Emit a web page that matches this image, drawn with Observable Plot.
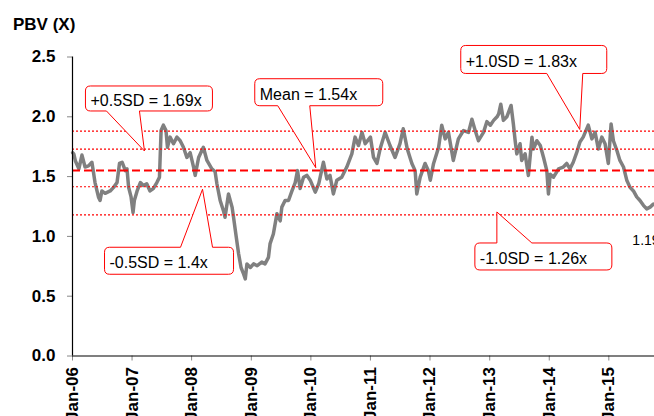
<!DOCTYPE html>
<html><head><meta charset="utf-8">
<script src="https://cdn.jsdelivr.net/npm/d3@7"></script>
<script src="https://cdn.jsdelivr.net/npm/@observablehq/plot@0.6"></script>
<style>
html,body{margin:0;padding:0;background:#fff}
body{width:654px;height:416px;overflow:hidden;font-family:"Liberation Sans",Arial,sans-serif}
#title{height:40px;box-sizing:border-box;padding:16px 0 0 13px;font-weight:bold;font-size:17px;line-height:17px;color:#000}
</style></head><body>
<div id="title">PBV (X)</div>
<div id="chart"></div>
<script>
// ---- data ----
const dates = [
"2006-01-02","2006-01-09","2006-01-19","2006-02-09","2006-02-28","2006-03-19","2006-04-09","2006-04-30","2006-05-09","2006-05-19",
"2006-06-09","2006-06-19","2006-06-30","2006-07-20","2006-08-20","2006-09-10","2006-10-01","2006-10-16","2006-11-01","2006-11-21",
"2006-12-01","2006-12-11","2006-12-26","2007-01-07","2007-01-15","2007-02-01","2007-02-21","2007-03-11","2007-04-01","2007-04-21",
"2007-05-11","2007-06-02","2007-06-18","2007-06-28","2007-07-12","2007-07-28","2007-08-06","2007-08-22","2007-09-12","2007-10-03",
"2007-10-23","2007-11-12","2007-12-03","2007-12-23","2008-01-13","2008-01-23","2008-02-13","2008-03-13","2008-04-04","2008-05-04",
"2008-05-24","2008-06-04","2008-06-24","2008-07-14","2008-07-24","2008-08-14","2008-09-05","2008-09-14","2008-10-01","2008-10-15",
"2008-10-30","2008-11-15","2008-11-25","2008-12-05","2008-12-26","2009-01-15","2009-02-06","2009-03-06","2009-03-26","2009-04-16",
"2009-04-26","2009-05-16","2009-06-07","2009-06-27","2009-07-07","2009-07-27","2009-08-17","2009-09-07","2009-09-27","2009-10-11",
"2009-10-27","2009-11-17","2009-12-08","2009-12-28","2010-01-28","2010-02-18","2010-03-19","2010-04-09","2010-04-28","2010-05-19",
"2010-06-09","2010-07-09","2010-08-09","2010-09-09","2010-09-29","2010-10-20","2010-11-10","2010-11-30","2011-01-01","2011-01-20",
"2011-02-10","2011-03-01","2011-04-01","2011-05-01","2011-06-01","2011-07-01","2011-07-21","2011-08-15","2011-09-12","2011-10-02",
"2011-10-12","2011-11-02","2011-12-02","2011-12-22","2012-01-03","2012-01-23","2012-02-23","2012-03-13","2012-04-03","2012-04-23",
"2012-05-23","2012-06-23","2012-07-24","2012-08-24","2012-09-14","2012-10-04","2012-10-24","2012-11-24","2012-12-15","2013-01-05",
"2013-01-25","2013-02-15","2013-02-25","2013-03-10","2013-03-26","2013-04-16","2013-05-12","2013-05-26","2013-06-06","2013-06-16",
"2013-07-06","2013-07-16","2013-08-06","2013-08-26","2013-09-17","2013-09-26","2013-10-17","2013-11-07","2013-11-27","2013-12-17",
"2013-12-27","2014-01-07","2014-01-27","2014-02-27","2014-03-28","2014-04-18","2014-05-08","2014-05-28","2014-06-18","2014-07-08",
"2014-07-28","2014-08-28","2014-09-19","2014-10-09","2014-10-29","2014-11-19","2014-12-09","2014-12-29","2015-01-15","2015-01-29",
"2015-02-19","2015-03-10","2015-04-01","2015-04-21","2015-05-11","2015-06-01","2015-06-21","2015-07-11","2015-08-01","2015-08-21",
"2015-09-11","2015-10-01"
];
const pbv = [
1.70,1.69,1.63,1.565,1.68,1.58,1.59,1.62,1.54,1.45,
1.33,1.30,1.38,1.36,1.38,1.41,1.45,1.61,1.62,1.55,
1.565,1.41,1.33,1.20,1.30,1.38,1.45,1.425,1.44,1.38,
1.40,1.45,1.495,1.885,1.93,1.885,1.745,1.83,1.775,1.83,
1.80,1.745,1.66,1.70,1.58,1.51,1.66,1.745,1.635,1.565,
1.54,1.44,1.30,1.215,1.16,1.355,1.245,1.16,0.99,0.855,
0.74,0.685,0.645,0.77,0.74,0.77,0.755,0.785,0.77,0.825,
0.94,1.02,1.19,1.13,1.245,1.30,1.30,1.38,1.45,1.55,
1.40,1.495,1.51,1.47,1.37,1.44,1.62,1.48,1.51,1.355,
1.47,1.495,1.58,1.69,1.83,1.76,1.87,1.775,1.83,1.66,
1.61,1.73,1.87,1.76,1.66,1.775,1.90,1.73,1.61,1.55,
1.355,1.495,1.61,1.55,1.47,1.61,1.745,1.93,1.815,1.87,
1.635,1.815,1.885,1.87,1.98,1.885,1.80,1.87,1.96,1.93,
1.97,2.0,2.025,2.105,1.97,2.0,2.095,1.94,1.80,1.69,
1.775,1.635,1.69,1.51,1.83,1.73,1.80,1.76,1.66,1.55,
1.355,1.52,1.495,1.565,1.58,1.61,1.565,1.62,1.70,1.79,
1.83,1.93,1.815,1.87,1.73,1.83,1.775,1.61,1.94,1.80,
1.72,1.635,1.58,1.47,1.41,1.38,1.33,1.30,1.26,1.23,
1.245,1.27
];
// reference band levels as drawn (lines)
const bandNames  = ["+1.0SD", "+0.5SD", "Mean", "-0.5SD", "-1.0SD"];
const bandLevels = [1.88, 1.73, 1.55, 1.415, 1.18];
// callout labels and where they point
const calloutTexts  = ["+0.5SD = 1.69x", "Mean = 1.54x", "+1.0SD = 1.83x", "-0.5SD = 1.4x", "-1.0SD = 1.26x"];
const calloutDates  = ["2007-03-21", "2010-02-03", "2014-07-10", "2008-03-11", "2013-02-17"];
const calloutValues = [1.71, 1.57, 1.89, 1.39, 1.20];
const endLabel = "1.19x";
const yTicks = [0, 0.5, 1.0, 1.5, 2.0, 2.5];
const xTicks = ["2006","2007","2008","2009","2010","2011","2012","2013","2014","2015"];
const xDomain = ["2006-01-01", "2015-10-08"];

// ---- layout (pixels, relative to each callout tip) ----
const calloutLayout = [
  {L:-59, R:68,  T:-65, B:-40, b1:-38, b2:-5,  side:"bottom"},
  {L:-61, R:67,  T:-89, B:-62, b1:-38, b2:-6,  side:"bottom"},
  {L:-119,R:27,  T:-84, B:-56, b1:-33, b2:3,   side:"bottom"},
  {L:-98, R:31,  T:58,  B:85,  b1:-22, b2:10,  side:"top"},
  {L:-22, R:115, T:31,  B:58,  b1:0,   b2:35,  side:"top"}
];

const n = Math.min(dates.length, pbv.length);
const series = d3.range(n).map(i => ({date: new Date(dates[i]), pbv: pbv[i]}));
const bands = bandNames.map((name, i) => ({name, level: bandLevels[i]}));
const callouts = calloutTexts.map((t, i) => ({text: t, date: new Date(calloutDates[i]), value: calloutValues[i], ...calloutLayout[i]}));
const last = series[series.length - 1];

function calloutMark(index, scales) {
  const g = d3.create("svg:g");
  const r = 5;
  for (const c of callouts) {
    const tx = scales.x(c.date), ty = scales.y(c.value);
    const L = tx + c.L, R = tx + c.R, T = ty + c.T, B = ty + c.B;
    const b1 = tx + c.b1, b2 = tx + c.b2;
    let p;
    if (c.side === "bottom") {
      p = `M${L+r},${T}H${R-r}Q${R},${T} ${R},${T+r}V${B-r}Q${R},${B} ${R-r},${B}H${b2}L${tx},${ty}L${b1},${B}H${L+r}Q${L},${B} ${L},${B-r}V${T+r}Q${L},${T} ${L+r},${T}Z`;
    } else {
      p = `M${L+r},${T}H${b1}L${tx},${ty}L${b2},${T}H${R-r}Q${R},${T} ${R},${T+r}V${B-r}Q${R},${B} ${R-r},${B}H${L+r}Q${L},${B} ${L},${B-r}V${T+r}Q${L},${T} ${L+r},${T}Z`;
    }
    g.append("path").attr("d", p).attr("fill", "white").attr("stroke", "#ff0000").attr("stroke-width", 1);
    g.append("text").attr("x", L + 5).attr("y", (T + B) / 2 + 7.5)
      .attr("text-anchor", "start").attr("font-size", 16).attr("fill", "#000").text(c.text);
  }
  return g.node();
}

const chart = Plot.plot({
  width: 654,
  height: 376,
  marginLeft: 72,
  marginRight: 0,
  marginTop: 16.5,
  marginBottom: 60.5,
  style: {fontFamily: "'Liberation Sans', Arial, sans-serif", background: "white", overflow: "hidden"},
  x: {type: "utc", domain: xDomain.map(d => new Date(d))},
  y: {domain: [0, 2.5]},
  marks: [
    Plot.axisY(yTicks, {tickSize: 5, tickPadding: 12, tickFormat: d3.format(".1f"), stroke: "#888", fill: "#000", fontSize: 17, fontWeight: "bold", label: null}),
    Plot.axisX(xTicks.map(y => new Date(y + "-01-01")), {tickSize: 5, tickPadding: 6, tickRotate: -90, tickFormat: d3.utcFormat("%b-%y"), stroke: "#888", fill: "#000", fontSize: 17, fontWeight: "bold", label: null}),
    Plot.line(series, {x: "date", y: "pbv", stroke: "#808080", strokeWidth: 3.5, strokeLinejoin: "round"}),
    Plot.ruleY(bands.filter(b => b.name !== "Mean"), {y: "level", stroke: "#ff0000", strokeWidth: 1.2, strokeDasharray: "2,2"}),
    Plot.ruleY(bands.filter(b => b.name === "Mean"), {y: "level", stroke: "#ff0000", strokeWidth: 2, strokeDasharray: "8,4"}),
    Plot.ruleX([new Date(xDomain[0])], {stroke: "#000", strokeWidth: 1.2}),
    Plot.ruleY([0], {stroke: "#000", strokeWidth: 1.2}),
    calloutMark,
    Plot.text([last], {x: "date", y: "pbv", text: () => endLabel, textAnchor: "start", dx: -21, dy: 36, fontSize: 14, fill: "#000"})
  ]
});
document.getElementById("chart").appendChild(chart);
</script>
</body></html>
